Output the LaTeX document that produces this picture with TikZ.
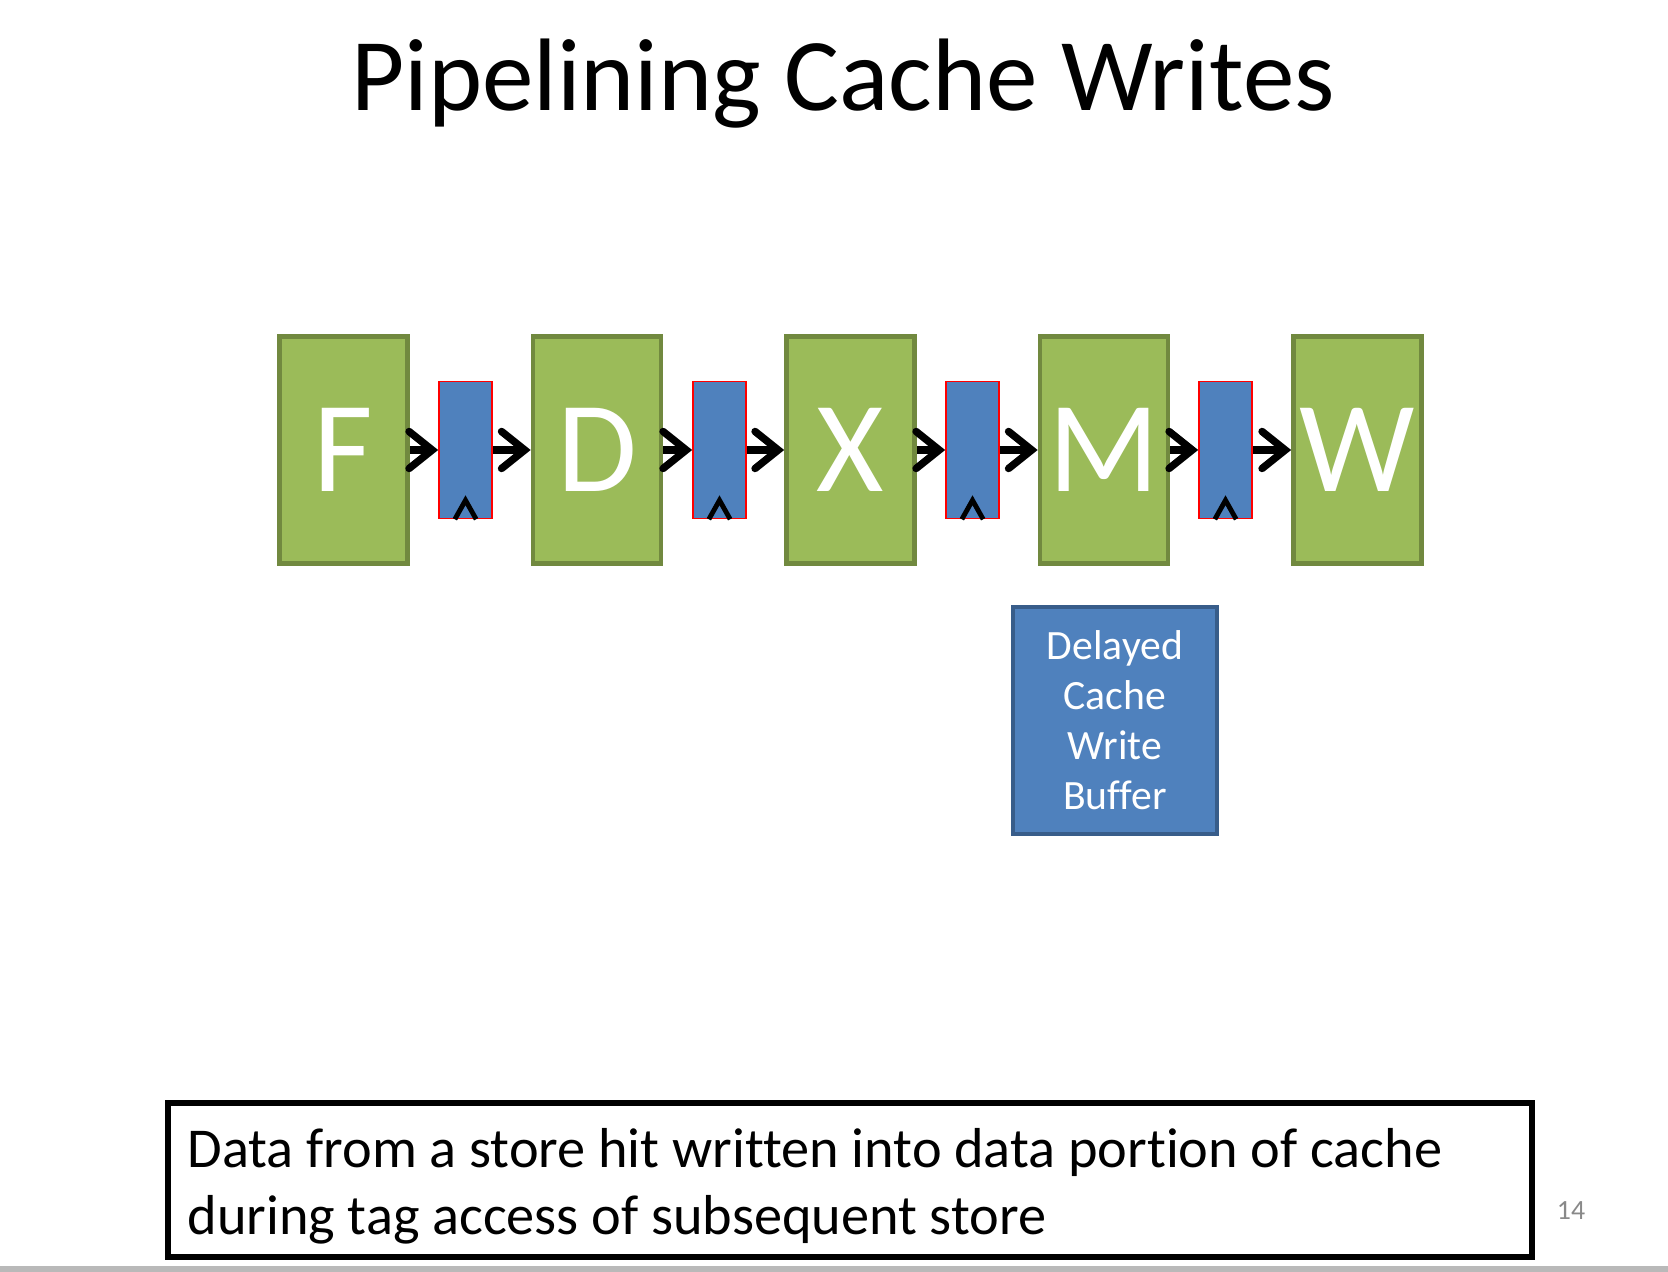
\documentclass[tikz,border=0pt]{standalone}
\usepackage{fontspec}
\setmainfont{Carlito}[Ligatures=NoCommon]
\usetikzlibrary{arrows.meta}
\definecolor{stagegreen}{HTML}{9BBB59}
\definecolor{stageedge}{HTML}{71893F}
\definecolor{regblue}{HTML}{4F81BD}
\definecolor{bufedge}{HTML}{385D8A}
\definecolor{pagegray}{HTML}{898989}
\tikzset{
  stage/.style={draw=stageedge, fill=stagegreen, line width=2pt, minimum width=55.3pt, minimum height=98pt, inner sep=0pt, text=white, font=\fontsize{56}{60}\selectfont},
  latch/.style={draw=red, fill=regblue, line width=0.7pt, minimum width=22.9pt, minimum height=59.1pt, inner sep=0pt},
  flow/.style={line width=3.2pt, -{Straight Barb[length=10pt,width=16pt,line cap=round]}},
  clk/.style={line width=2.1pt}
}
\begin{document}
\begin{tikzpicture}[x=0.43165pt, y=-0.43165pt]
\useasboundingbox[fill=white] (0,0) rectangle (1668,1272);
\fill[gray!55] (0,1266) rectangle (1668,1272);
\node[anchor=base] (title) at (843,111) {\fontsize{44.5}{52}\selectfont Pipelining Cache Writes};
\node[stage] (F) at (343.5,450) {\raisebox{-1.6pt}{F}};
\node[stage] (D) at (597,450) {\raisebox{-1.6pt}{D}};
\node[stage] (X) at (850.5,450) {\raisebox{-1.6pt}{X}};
\node[stage] (M) at (1104,450) {\raisebox{-1.6pt}{M}};
\node[stage] (W) at (1357.5,450) {\raisebox{-1.6pt}{W}};
\node[latch] (r1) at (465.5,450) {};
\node[latch] (r2) at (719.5,450) {};
\node[latch] (r3) at (972.5,450) {};
\node[latch] (r4) at (1225.5,450) {};
\draw[flow] (F) -- (r1);
\draw[flow] (r1) -- (D);
\draw[flow] (D) -- (r2);
\draw[flow] (r2) -- (X);
\draw[flow] (X) -- (r3);
\draw[flow] (r3) -- (M);
\draw[flow] (M) -- (r4);
\draw[flow] (r4) -- (W);
\foreach \r in {r1,r2,r3,r4}
  \draw[clk] ([xshift=-4.6pt]\r.south) -- ([yshift=8.2pt]\r.south) -- ([xshift=4.6pt]\r.south);
\node[draw=bufedge, fill=regblue, line width=2pt, minimum width=88pt, minimum height=98pt, text=white, align=center, font=\fontsize{18}{21.6}\selectfont] (buf) at (1115,720.5) {Delayed\\Cache\\Write\\Buffer};
\node[draw=black, line width=2.4pt, minimum width=588.8pt, minimum height=66.5pt] (note) at (850,1180) {};
\node[anchor=base west, inner sep=0pt, align=left, font=\fontsize{24.3}{28.9}\selectfont] (notetext) at (187,1234) {Data from a store hit written into data portion of cache\\during tag access of subsequent store};
\node[anchor=base, text=pagegray, font=\fontsize{12}{14}\selectfont] (page) at (1571,1219) {14};
\end{tikzpicture}
\end{document}
